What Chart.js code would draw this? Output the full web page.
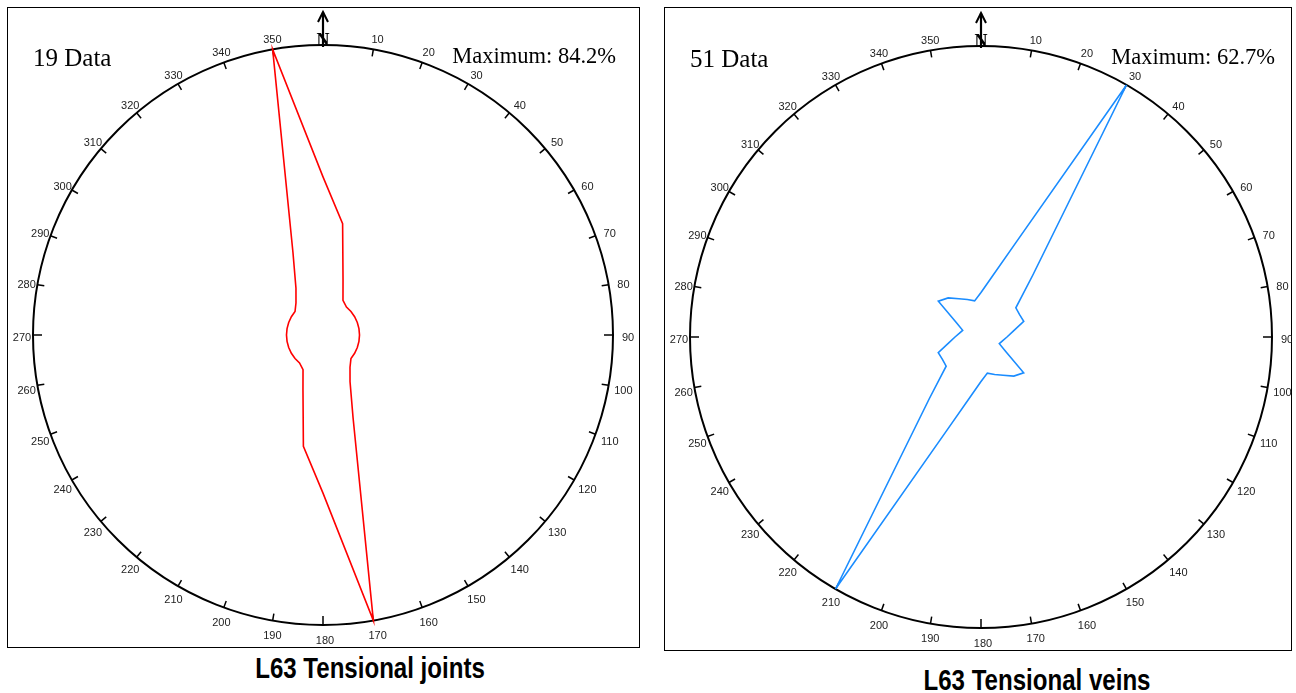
<!DOCTYPE html>
<html>
<head>
<meta charset="utf-8">
<script src="https://cdn.jsdelivr.net/npm/chart.js@4.4.1/dist/chart.umd.min.js"></script>
<style>
  html, body { margin: 0; padding: 0; background: #fff; width: 1296px; height: 693px; overflow: hidden; }
  .frame { position: absolute; border: 1px solid #000; box-sizing: border-box; }
  canvas { position: absolute; }
  .caption {
    position: absolute; white-space: nowrap; color: #000;
    font-family: "Liberation Sans", Arial, sans-serif;
    font-weight: bold; font-size: 29px; transform: translate(-50%, -50%) scaleX(0.83);
  }
</style>
</head>
<body>
<div class="frame" style="left:7px;top:7px;width:633px;height:641px;"></div>
<canvas id="joints" width="633" height="641" style="left:7px;top:7px;"></canvas>
<div class="caption" style="left:370px;top:668px;">L63 Tensional joints</div>

<div class="frame" style="left:664px;top:7px;width:628px;height:644px;"></div>
<canvas id="veins" width="628" height="644" style="left:664px;top:7px;"></canvas>
<div class="caption" style="left:1037px;top:680px;">L63 Tensional veins</div>

<script>
// Strike directions (degrees, clockwise from north), one value every 10°
const DIRECTIONS = [0, 10, 20, 30, 40, 50, 60, 70, 80, 90, 100, 110, 120, 130, 140, 150, 160, 170,
                    180, 190, 200, 210, 220, 230, 240, 250, 260, 270, 280, 290, 300, 310, 320, 330, 340, 350];

// Tensional joints: percentage of measurements per direction
const JOINTS_PCT = [45.9, 32.8, 17.0, 11.6, 10.6, 10.6, 10.6, 10.6, 10.6, 10.6, 10.6, 10.6, 10.6, 10.6, 12.2, 15.7, 25.5, 84.2,
                    45.9, 32.8, 17.0, 11.6, 10.6, 10.6, 10.6, 10.6, 10.6, 10.6, 10.6, 10.6, 10.6, 10.6, 12.2, 15.7, 25.5, 84.2];
const JOINTS_COUNT = 19;

// Tensional veins: percentage of measurements per direction
const VEINS_PCT = [9.6, 13.0, 21.3, 62.7, 17.3, 9.8, 9.6, 9.8, 7.0, 5.6, 4.7, 4.2, 6.1, 12.0, 11.0, 9.5, 8.6, 7.9,
                   9.6, 13.0, 21.3, 62.7, 17.3, 9.8, 9.6, 9.8, 7.0, 5.6, 4.7, 4.2, 6.1, 12.0, 11.0, 9.5, 8.6, 7.9];
const VEINS_COUNT = 51;

// Compass frame: outer circle, 10° ticks, degree labels, north arrow, header texts
const compassPlugin = {
  id: 'compass',
  beforeDatasetsDraw(chart) {
    const ctx = chart.ctx;
    const r = chart.scales.r;
    const R = r.drawingArea;
    const cx = r.xCenter, cy = r.yCenter;
    ctx.save();
    ctx.strokeStyle = '#000';
    ctx.lineWidth = 2;
    ctx.beginPath();
    ctx.arc(cx, cy, R, 0, Math.PI * 2);
    ctx.stroke();

    ctx.lineWidth = 1.5;
    DIRECTIONS.forEach((deg, i) => {
      const major = deg % 90 === 0;
      if (deg === 0) return;
      const a = r.getPointPosition(i, R - (major ? 9 : 7));
      const b = r.getPointPosition(i, R + (major ? 1 : 0));
      ctx.beginPath();
      ctx.moveTo(a.x, a.y);
      ctx.lineTo(b.x, b.y);
      ctx.stroke();
    });

    ctx.fillStyle = '#222';
    ctx.font = '11px "Liberation Sans", Arial, sans-serif';
    ctx.textAlign = 'center';
    ctx.textBaseline = 'middle';
    DIRECTIONS.forEach((deg, i) => {
      if (deg === 0) return;
      const p = r.getPointPosition(i, R + 13);
      ctx.fillText(String(deg), p.x + 2, p.y + 3);
    });
    ctx.restore();
  },
  afterDraw(chart, args, opts) {
    const ctx = chart.ctx;
    const r = chart.scales.r;
    const area = chart.chartArea;
    const cx = r.xCenter;
    const top = r.yCenter - r.drawingArea;
    ctx.save();
    // north arrow
    ctx.strokeStyle = '#000';
    ctx.lineWidth = 2.2;
    ctx.beginPath();
    ctx.moveTo(cx, top - 33);
    ctx.lineTo(cx, top + 2);
    ctx.stroke();
    ctx.lineWidth = 2;
    ctx.beginPath();
    ctx.moveTo(cx - 5, top - 23);
    ctx.lineTo(cx, top - 33);
    ctx.lineTo(cx + 5, top - 23);
    ctx.stroke();
    ctx.fillStyle = '#000';
    ctx.font = 'bold 18px "Liberation Serif", "Times New Roman", serif';
    ctx.textAlign = 'center';
    ctx.textBaseline = 'alphabetic';
    ctx.fillText('N', cx, top + 1);

    // header texts
    const maxVal = Math.max(...chart.data.datasets[0].data);
    ctx.textBaseline = 'middle';
    ctx.font = '25px "Liberation Serif", "Times New Roman", serif';
    ctx.textAlign = 'left';
    ctx.fillText(opts.count + ' Data', area.left, area.top + 14);
    ctx.font = '22.5px "Liberation Serif", "Times New Roman", serif';
    ctx.textAlign = 'right';
    ctx.fillText('Maximum: ' + maxVal.toFixed(1) + '%', area.right + 3, area.top + 12);
    ctx.restore();
  }
};

function roseChart(id, values, count, color, padding) {
  return new Chart(document.getElementById(id), {
    type: 'radar',
    data: {
      labels: DIRECTIONS.map(String),
      datasets: [{
        data: values,
        borderColor: color,
        borderWidth: 1.6,
        pointRadius: 0,
        fill: false,
        tension: 0
      }]
    },
    options: {
      responsive: false,
      animation: false,
      events: [],
      layout: { padding: padding },
      plugins: {
        legend: { display: false },
        tooltip: { enabled: false },
        compass: { count: count }
      },
      scales: {
        r: {
          min: 0,
          max: Math.max(...values),
          startAngle: 0,
          grid: { display: false },
          angleLines: { display: false },
          ticks: { display: false },
          pointLabels: { display: false }
        }
      }
    },
    plugins: [compassPlugin]
  });
}

roseChart('joints', JOINTS_PCT, JOINTS_COUNT, '#ff0000', { left: 26, top: 38, right: 27, bottom: 23 });
roseChart('veins', VEINS_PCT, VEINS_COUNT, '#1a8cff', { left: 26, top: 39, right: 20, bottom: 23 });
</script>
</body>
</html>
